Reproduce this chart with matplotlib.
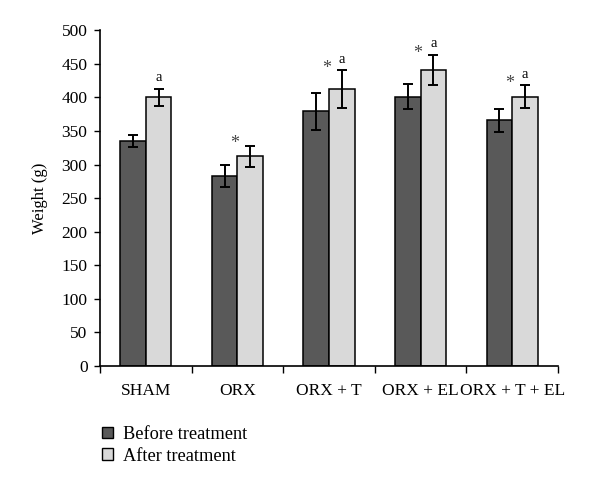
import matplotlib
matplotlib.use("Agg")
import matplotlib.pyplot as plt
import numpy as np
from matplotlib.patches import Patch

categories = ["SHAM", "ORX", "ORX + T", "ORX + EL", "ORX + T + EL"]
before = [335, 283, 379, 401, 366]
before_err = [9, 17, 28, 19, 17]
after = [400, 312, 412, 441, 401]
after_err = [13, 16, 28, 22, 17]
star_marks = ["", "*", "*", "*", "*"]
a_marks = ["a", "", "a", "a", "a"]
yticks = [0, 50, 100, 150, 200, 250, 300, 350, 400, 450, 500]

plt.rcParams['font.family'] = ['Liberation Serif', 'DejaVu Serif']

fig = plt.figure(figsize=(6, 4.87), dpi=100)
ax = fig.add_axes([0.1667, 0.2485, 0.93 - 0.1667, 0.938 - 0.2485])

x = np.arange(len(categories))
w = 0.28
ekw = dict(elinewidth=1.4, capthick=1.4, ecolor='black')
ax.bar(x - w / 2, before, w, color='#595959', edgecolor='black', linewidth=1.1,
       yerr=before_err, capsize=3.5, error_kw=ekw, label='Before treatment')
ax.bar(x + w / 2, after, w, color='#d9d9d9', edgecolor='black', linewidth=1.1,
       yerr=after_err, capsize=3.5, error_kw=ekw, label='After treatment')

for i in range(len(categories)):
    top = after[i] + after_err[i]
    if a_marks[i]:
        ax.text(x[i] + w / 2, top + 7, a_marks[i], ha='center', va='bottom', fontsize=10.5)
    if star_marks[i]:
        ax.text(x[i] + w / 2 - 0.17, top - 4, star_marks[i], ha='center', va='baseline',
                fontsize=13, color='#444444')

ax.set_xlim(-0.5, len(categories) - 0.5)
ax.set_ylim(0, 500)
ax.set_yticks(yticks)
ax.tick_params(axis='y', direction='out', length=4, width=1, labelsize=12.5, pad=5)
ax.set_xticks(x)
ax.set_xticklabels(categories, fontsize=12.5)
ax.tick_params(axis='x', which='major', length=0, pad=12)
ax.set_xticks(np.arange(-0.5, len(categories)), minor=True)
ax.tick_params(axis='x', which='minor', direction='out', length=5, width=1)
for s in ['top', 'right']:
    ax.spines[s].set_visible(False)
for s in ['left', 'bottom']:
    ax.spines[s].set_linewidth(1.2)
ax.set_ylabel('Weight (g)', fontsize=12, labelpad=10)

handles = [Patch(facecolor='#595959', edgecolor='black', linewidth=1.0),
           Patch(facecolor='#d9d9d9', edgecolor='black', linewidth=1.0)]
fig.legend(handles, ['Before treatment', 'After treatment'], loc='upper left',
           bbox_to_anchor=(0.17, 0.125), frameon=False, fontsize=13.2,
           handlelength=0.6, handleheight=0.6, handletextpad=0.55,
           labelspacing=0.25, borderpad=0, borderaxespad=0)

fig.savefig('out.png', dpi=100)
